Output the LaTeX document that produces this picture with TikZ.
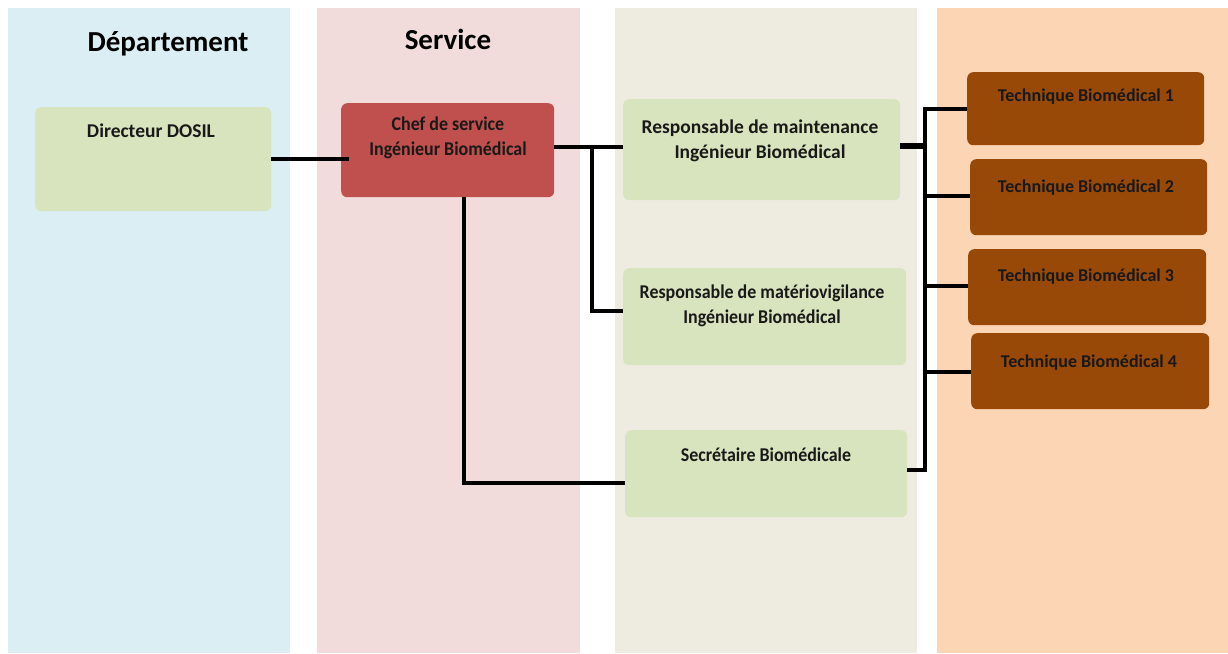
\documentclass[tikz,border=0pt]{standalone}
\usepackage{fontspec}
\setmainfont{Carlito}
\newfontfamily\condfont[FakeStretch=0.92]{Carlito}
\definecolor{colA}{HTML}{DAEEF3}
\definecolor{colB}{HTML}{F2DCDB}
\definecolor{colC}{HTML}{EEECE1}
\definecolor{colD}{HTML}{FCD5B5}
\definecolor{greenbox}{HTML}{D7E4BD}
\definecolor{redbox}{HTML}{C0504D}
\definecolor{brownbox}{HTML}{984807}
\tikzset{
  lane/.style={draw=none, anchor=north west, inner sep=0pt},
  box/.style={draw=none, rounded corners=6pt, anchor=north west, inner sep=0pt},
  gbox/.style={box, fill=greenbox},
  rbox/.style={box, fill=redbox},
  bbox/.style={box, fill=brownbox},
  txt/.style={anchor=north, align=center, font=\bfseries\fontsize{19.5}{24.5}\selectfont, inner sep=0pt, text=black!90},
  condtxt/.style={txt, font=\condfont\bfseries\fontsize{19.5}{24.5}\selectfont},
  tbtxt/.style={txt, font=\bfseries\fontsize{18}{22}\selectfont},
  head/.style={anchor=north, font=\bfseries\fontsize{29}{34}\selectfont, inner sep=0pt},
  conn/.style={line width=3.2pt},
  thick conn/.style={line width=5.5pt}
}
\begin{document}
\begin{tikzpicture}[x=1pt,y=-1pt]
\useasboundingbox (0,0) rectangle (1228,653);
\fill[white] (0,0) rectangle (1228,653);
% lanes
\node[lane, fill=colA, minimum width=282pt, minimum height=645pt] (laneA) at (8,8) {};
\node[lane, fill=colB, minimum width=263pt, minimum height=645pt] (laneB) at (317,8) {};
\node[lane, fill=colC, minimum width=302pt, minimum height=645pt] (laneC) at (615,8) {};
\node[lane, fill=colD, minimum width=291pt, minimum height=645pt] (laneD) at (937,8) {};
% headings
\node[head] (hA) at (168,31) {Département};
\node[head] (hB) at (448,29) {Service};
% boxes
\node[gbox, minimum width=236pt, minimum height=104pt] (dir) at (35,107) {};
\node[rbox, minimum width=213pt, minimum height=94pt] (chef) at (341,103) {};
\node[gbox, minimum width=277pt, minimum height=101pt] (maint) at (623,99) {};
\node[gbox, minimum width=283pt, minimum height=97pt] (mat) at (623,268) {};
\node[gbox, minimum width=282pt, minimum height=87pt] (sec) at (625,430) {};
\node[bbox, minimum width=237pt, minimum height=73pt] (tb1) at (967,72) {};
\node[bbox, minimum width=237pt, minimum height=76pt] (tb2) at (970,159) {};
\node[bbox, minimum width=238pt, minimum height=76pt] (tb3) at (968,249) {};
\node[bbox, minimum width=238pt, minimum height=76pt] (tb4) at (971,333) {};
% texts
\node[txt] (dirT) at (151,124) {Directeur DOSIL};
\node[condtxt] (chefT) at (448,117) {Chef de service\\Ingénieur Biomédical};
\node[txt] (maintT) at (760,120) {Responsable de maintenance\\Ingénieur Biomédical};
\node[condtxt] (matT) at (762,285) {Responsable de matériovigilance\\Ingénieur Biomédical};
\node[condtxt] (secT) at (766,448) {Secrétaire Biomédicale};
\node[tbtxt] (tb1T) at (1086,89) {Technique Biomédical 1};
\node[tbtxt] (tb2T) at (1086,180) {Technique Biomédical 2};
\node[tbtxt] (tb3T) at (1086,269) {Technique Biomédical 3};
\node[tbtxt] (tb4T) at (1089,355) {Technique Biomédical 4};
% junction coordinates
\coordinate (j1) at (592,147);
\coordinate (j2) at (925,146);
% connectors
\draw[conn] (dir.east |- 0,159) -- (349,159);
\draw[conn] (chef.east |- 0,147) -- (maint.west |- 0,147);
\draw[conn] (j1) |- (mat.west |- 0,311);
\draw[conn] (chef.south -| 464,0) |- (sec.west |- 0,483);
\draw[thick conn] (maint.east |- j2) -- (j2);
\draw[conn] (tb1.west |- 0,109) -| (925,109) |- (sec.east |- 0,470);
\draw[conn] (925,196) -- (tb2.west |- 0,196);
\draw[conn] (925,286) -- (tb3.west |- 0,286);
\draw[conn] (925,372) -- (tb4.west |- 0,372);
\end{tikzpicture}
\end{document}
